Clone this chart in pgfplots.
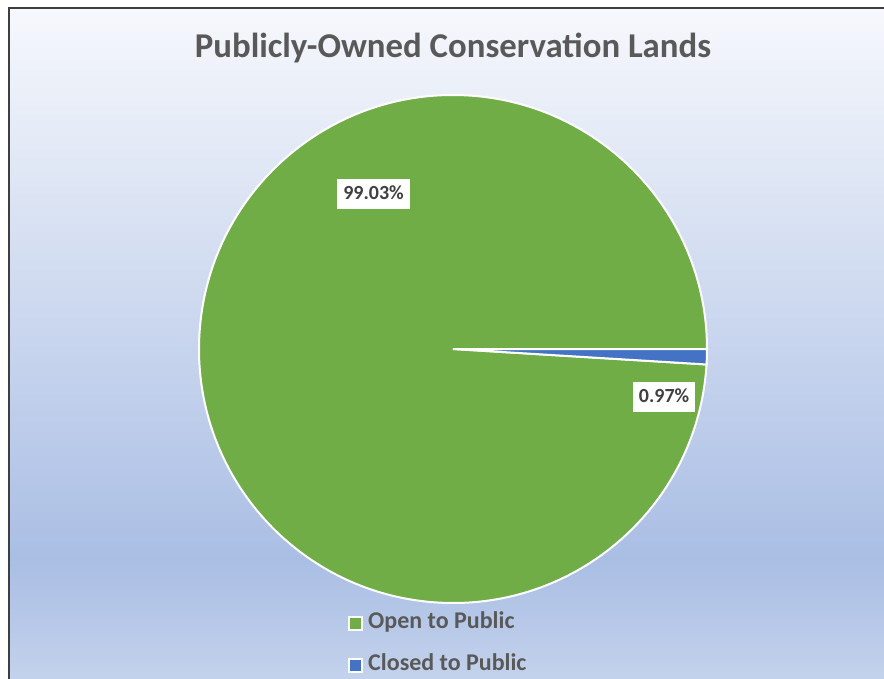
\documentclass[border=0pt]{standalone}
\usepackage{pgfplots}
\pgfplotsset{compat=1.18}
\usepackage{pgfplotstable}
\usepackage{fontspec}
\setmainfont{Carlito}

\definecolor{pieGreen}{HTML}{70AD47}
\definecolor{pieBlue}{HTML}{4472C4}
\definecolor{titleGray}{HTML}{595959}
\definecolor{labelGray}{HTML}{404040}
\definecolor{frameGray}{HTML}{3F3F3F}
\definecolor{bgA}{HTML}{F6F8FC}
\definecolor{bgB}{HTML}{AABEE4}
\definecolor{bgC}{HTML}{C3D2EC}

% path bounding box is mapped onto 25bp..75bp of the shading
\pgfdeclareverticalshading{chartbg}{100bp}{color(0bp)=(bgC); color(25bp)=(bgC); color(33.9bp)=(bgB); color(75bp)=(bgA); color(100bp)=(bgA)}

% share of land, percent
\pgfplotstableread{
label value
Closed 0.97
Open 99.03
}\piedata

\pgfplotstablegetelem{0}{value}\of\piedata
\let\vclosed\pgfplotsretval
\pgfmathsetmacro\aclosed{-3.6*\vclosed}

\begin{document}
\begin{tikzpicture}
\path[use as bounding box] (0,0) rectangle (442pt,-339.5pt);
\fill[white] (0,0) rectangle (442pt,-339.5pt);
\shade[shading=chartbg] (4.5pt,-4pt) rectangle (442pt,-339.5pt);
\draw[frameGray, line width=1pt] (4.5pt,-339.5pt) -- (4.5pt,-4pt) -- (442pt,-4pt);

\node[anchor=base, text=titleGray, font=\bfseries\fontsize{17.4}{20}\selectfont]
  at (226.5pt,-28.65pt) {Publicly-Owned Conservation Lands};

\begin{axis}[
    at={(226.5pt,-174.5pt)}, anchor=center,
    hide axis,
    scale only axis,
    width=254pt, height=254pt,
    xmin=-1, xmax=1, ymin=-1, ymax=1,
    clip=false,
    legend image code/.code={\draw[#1, line width=1pt] (0.5pt,-3.25pt) rectangle (7pt,3.25pt);},
    legend style={
        at={(0.293,-0.020)}, anchor=north west,
        draw=none, fill=none,
        font=\bfseries\fontsize{12}{14}\selectfont,
        text=titleGray,
        row sep=11pt, column sep=2.5pt, inner sep=0pt,
        nodes={inner sep=0pt, text height=0.75em, text depth=0.25em},
    },
    legend cell align=left,
]
% slices
\fill[pieGreen, draw=white, line width=1pt] (axis cs:0,0)
    -- (axis cs:{cos(\aclosed)},{sin(\aclosed)})
    arc[start angle=\aclosed, end angle=-360, radius=127pt] -- cycle;
\fill[pieBlue, draw=white, line width=1pt] (axis cs:0,0) -- (axis cs:1,0)
    arc[start angle=0, end angle=\aclosed, radius=127pt] -- cycle;

% data labels
\node[fill=white, text=labelGray, font=\bfseries\fontsize{10}{12}\selectfont,
      inner xsep=3pt, text height=7pt, text depth=1.5pt, inner ysep=3.2pt]
  at (axis cs:-0.313,0.610) {99.03\%};
\node[fill=white, text=labelGray, font=\bfseries\fontsize{10}{12}\selectfont,
      inner xsep=3pt, text height=7pt, text depth=1.5pt, inner ysep=3.2pt]
  at (axis cs:0.831,-0.188) {0.97\%};

\addlegendimage{fill=pieGreen, draw=white}
\addlegendentry{Open to Public}
\addlegendimage{fill=pieBlue, draw=white}
\addlegendentry{Closed to Public}
\end{axis}
\end{tikzpicture}
\end{document}
